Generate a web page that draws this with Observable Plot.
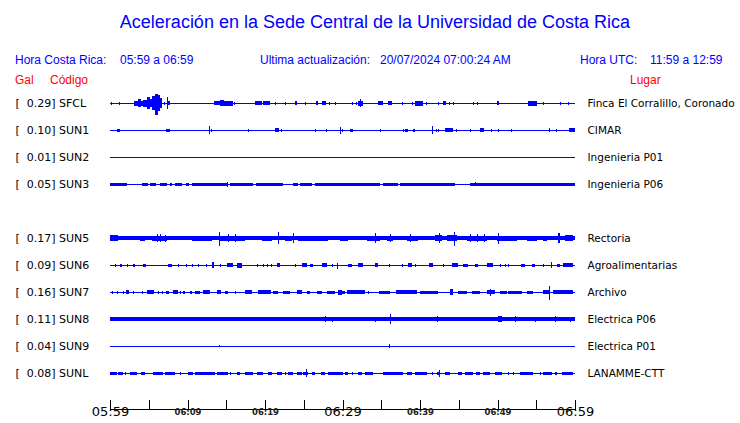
<!DOCTYPE html>
<html><head><meta charset="utf-8">
<script src="https://cdn.jsdelivr.net/npm/d3@7"></script>
<script src="https://cdn.jsdelivr.net/npm/@observablehq/plot@0.6"></script>
<style>
body{margin:0;background:#fff;}
#wrap{position:relative;width:740px;height:423px;overflow:hidden;font-family:"Liberation Sans",Arial,sans-serif;}
#wrap svg{position:absolute;left:0;top:0;}
.h{position:absolute;white-space:pre;font-size:12px;line-height:12px;color:#0000ff;}
.r{color:#ff0000;}
#title{position:absolute;left:0;width:750px;text-align:center;top:13px;font-size:18px;line-height:18px;color:#0000ff;white-space:pre;}
</style></head><body>
<div id="wrap">
<div id="title"></div>
<div class="h" id="h1" style="left:15px;top:54px"></div>
<div class="h" id="h2" style="left:120px;top:54px"></div>
<div class="h" id="h3" style="left:260px;top:54px"></div>
<div class="h" id="h4" style="left:380px;top:54px"></div>
<div class="h" id="h5" style="left:580px;top:54px"></div>
<div class="h" id="h6" style="left:650px;top:54px"></div>
<div class="h r" id="c1" style="left:15px;top:74px"></div>
<div class="h r" id="c2" style="left:50px;top:74px"></div>
<div class="h r" id="c3" style="left:630px;top:74px"></div>
</div>
<script>
const titleText = "Aceleración en la Sede Central de la Universidad de Costa Rica";
const headerTexts = ["Hora Costa Rica:", "05:59 a 06:59", "Ultima actualización:", "20/07/2024 07:00:24 AM", "Hora UTC:", "11:59 a 12:59"];
const columnTexts = ["Gal", "Código", "Lugar"];

const codes  = ["SFCL","SUN1","SUN2","SUN3","SUN4","SUN5","SUN6","SUN7","SUN8","SUN9","SUNL"];
const peakGal = [0.29, 0.10, 0.01, 0.05, null, 0.17, 0.09, 0.16, 0.11, 0.04, 0.08];
const places = ["Finca El Corralillo, Coronado","CIMAR","Ingenieria P01","Ingenieria P06",null,
                "Rectoria","Agroalimentarias","Archivo","Electrica P06","Electrica P01","LANAMME-CTT"];
const noiseAmp = [0, 0, 0, 0, null, 1.6, 0, 0, 1.8, 0, 0];

// bursts: [start minute, end minute, amplitude up, (amplitude down)]
const burstsSFCL = [[0.1,0.1,1.5],[1.2,1.2,1.5],[3.1,3.6,2.5],[3.6,4.0,4],[4.0,4.3,2.5],[4.3,4.8,3.5],[4.8,5.2,6],[5.2,5.4,4],[5.4,5.8,7],[5.8,6.2,9,12],[6.2,6.5,8],[6.5,6.7,5],[7.0,7.0,1.5],[7.4,7.5,6],[7.5,7.7,2],[13.4,14.2,2],[14.2,14.7,3],[14.7,15.9,2.5],[16.0,16.0,1.5],[18.7,19.6,2],[19.7,20.6,2],[21.3,21.3,1.5],[22.6,22.6,1.5],[23.9,24.1,2],[25.2,25.2,1.5],[26.6,26.8,2],[27.4,27.9,2],[28.3,28.3,1.5],[29.0,29.0,1.5],[31.2,31.2,1.5],[31.7,31.7,1.5],[32.0,32.6,2.5],[32.2,32.2,4],[34.6,35.2,2],[35.9,36.4,2],[37.7,37.7,1.5],[39.0,39.0,1.5],[39.4,40.4,2.5],[40.8,40.8,1.5],[42.3,42.3,1.5],[43.0,43.4,2],[43.7,43.7,1.5],[44.3,44.3,1.5],[46.8,46.8,1.5],[47.4,47.4,1.5],[49.9,50.2,2],[53.9,55.1,2.5],[55.9,55.9,1.5],[58.1,58.1,1.5],[59.1,59.1,1.5]];
const burstsSUN1 = [[0.9,1.3,1.5],[7.2,7.7,1.5],[12.8,12.8,4],[13.0,13.2,1.5],[17.8,17.8,1.5],[21.3,21.8,2],[22.0,22.0,1.5],[26.4,26.4,1.5],[27.9,27.9,1.5],[29.7,29.7,3.5],[29.9,29.9,1.5],[31.0,31.4,1.5],[34.8,34.8,1.5],[37.8,37.8,1.5],[38.1,38.5,1.5],[39.1,39.4,1.5],[41.6,41.6,4],[42.1,42.1,1.5],[42.3,42.3,1.5],[43.2,44.3,2],[44.7,44.7,1.5],[46.4,46.4,1.5],[47.7,48.3,2],[49.1,49.1,1.5],[50.0,50.0,1.5],[51.7,51.7,1.5],[56.7,56.7,2],[57.6,57.6,1.5],[59.2,60,2]];
const burstsSUN2 = [];
const burstsSUN3 = [[0,2.2,1.5],[4.1,4.9,1.5],[5.2,5.9,1.5],[6.5,7.4,1.5],[7.7,8.0,1.5],[8.4,9.3,1.5],[9.8,10.2,1.5],[10.6,15.1,1.5],[15.1,15.1,2.5],[15.5,18.5,1.5],[18.8,22.3,1.5],[23.6,24.3,1.5],[24.5,26.1,1.5],[26.5,34.8,1.5],[35.2,37.2,1.5],[37.4,44.5,1.5],[46.5,60,1.5],[47.1,47.1,2]];
const burstsSUN5 = [[0,1.0,3],[3.9,4.5,2.5],[5.4,7.4,2.5],[6.1,6.1,4],[6.5,6.5,4],[7.1,7.1,3.5],[10.6,13.2,2.5],[14.0,14.0,6,8],[14.2,17.4,2.5],[15.2,15.2,4],[16.1,16.1,4],[19.6,20.9,2.5],[21.7,21.7,6],[22.6,23.5,2.5],[23.6,23.6,5],[24.3,28.1,2.5],[29.7,30.7,2.5],[33.2,34.8,2.5],[34.2,34.2,5],[35.7,36.5,2.5],[36.1,36.1,4],[38.3,39.7,2.5],[38.7,38.7,4],[41.9,42.8,3],[42.5,42.5,5],[43.5,44.8,3],[44.4,44.4,6,8],[46.1,48.6,2.5],[46.5,46.5,4],[47.4,47.4,4],[48.2,48.2,4],[49.9,52.5,2.5],[50.1,50.1,5.5],[53.8,55.1,2.5],[55.9,56.4,2.5],[57.8,58.1,5],[58.7,59.7,3]];
const burstsSUN6 = [[0.6,0.6,1.5],[1.3,1.5,1.5],[2.2,2.2,1.5],[3.0,3.2,1.5],[4.3,4.6,1.5],[7.5,8.0,1.5],[8.8,8.8,1.5],[9.8,9.8,1.5],[10.6,10.6,1.5],[11.4,11.4,1.5],[12.4,12.4,1.5],[13.2,13.4,3],[14.2,14.2,1.5],[15.1,15.9,2],[16.4,17.0,2.5],[19.0,19.0,1.5],[19.7,19.7,1.5],[20.3,20.3,1.5],[20.8,20.8,1.5],[21.5,21.9,2],[23.9,23.9,1.5],[24.8,25.4,2],[25.8,26.2,1.5],[27.4,28.0,2],[28.6,28.6,1.5],[29.3,29.3,2,4],[30.7,31.2,1.5],[32.0,32.6,2],[34.2,34.6,2],[36.0,36.0,1.5],[37.7,37.7,1.5],[38.5,39.0,2],[39.4,39.4,1.5],[41.2,41.7,2],[43.0,43.0,1.5],[44.1,44.9,2],[45.5,46.2,1.5],[47.1,47.5,1.5],[48.6,49.4,2],[50.3,50.3,1.5],[51.0,51.0,1.5],[51.4,51.4,1.5],[53.0,53.6,1.5],[54.5,54.8,1.5],[55.9,55.9,1.5],[56.9,56.9,3],[57.7,58.1,1.5],[58.5,59.7,2]];
const burstsSUN7 = [[0.3,0.4,1.5],[0.9,0.9,1.5],[1.7,1.7,1.5],[2.1,2.5,2],[3.0,3.0,1.5],[4.1,4.1,1.5],[4.8,5.7,2],[6.2,6.2,1.5],[6.7,6.8,1.5],[7.2,7.6,1.5],[8.1,8.8,2],[9.0,9.0,1.5],[9.4,9.7,1.5],[10.3,10.6,1.5],[11.0,11.6,1.5],[12.0,12.9,2],[13.8,14.3,2],[14.8,15.2,1.5],[16.1,16.1,1.5],[17.4,18.3,2],[19.1,20.8,2],[21.0,21.7,1.5],[22.3,23.2,1.5],[24.1,24.8,2],[25.4,25.8,1.5],[26.7,27.4,1.5],[28.0,29.0,1.5],[29.4,29.9,2.5],[29.7,30.3,1.5],[30.6,32.9,2],[33.3,33.3,1.5],[34.7,36.1,1.5],[36.9,39.6,2],[40.0,42.3,1.5],[43.9,44.3,3],[44.9,46.1,1.5],[46.7,47.7,1.5],[48.6,49.7,2],[49.0,49.0,3.5],[50.3,51.2,1.5],[51.4,53.2,1.5],[53.8,54.6,1.5],[55.9,56.8,2],[56.6,56.6,6,8],[57.2,59.7,2]];
const burstsSUN8 = [[27.7,27.7,3],[28.6,28.6,2.5],[34.2,34.2,2.5],[36.1,36.1,5],[42.2,42.2,3],[50.1,50.6,3],[52.3,52.3,3],[54.8,54.8,2.5],[57.4,57.4,3],[59.4,59.4,2.5]];
const burstsSUN9 = [[14.0,14.0,1.5,0],[36.0,36.0,2]];
const burstsSUNL = [[0,0.9,1.5],[1.0,1.7,1.5],[1.9,1.9,1.5],[2.6,3.5,1.5],[4.0,4.5,1.5],[5.5,6.8,1.5],[7.1,8.4,1.5],[9.0,9.0,1.5],[10.1,10.7,1.5],[11.0,13.5,1.5],[13.8,15.2,1.5],[15.5,15.5,1.5],[16.4,16.8,1.5],[17.4,18.5,1.5],[19.0,19.7,1.5],[20.4,20.9,1.5],[21.5,22.2,1.5],[22.6,22.6,1.5],[23.0,23.6,1.5],[24.1,24.8,1.5],[24.9,25.5,1.5],[25.3,25.3,4],[26.1,26.5,1.5],[27.2,27.7,1.5],[28.1,30.1,1.5],[30.3,30.7,1.5],[31.2,31.2,1.5],[32.0,32.5,1.5],[32.9,33.9,1.5],[35.2,37.8,1.5],[38.3,39.0,1.5],[39.4,40.9,1.5],[41.5,41.5,1.5],[42.2,42.6,1.5],[42.5,42.5,3.5],[43.2,43.9,1.5],[44.9,45.4,1.5],[45.8,46.8,1.5],[47.2,47.7,1.5],[48.1,49.0,1.5],[49.7,50.6,1.5],[51.4,51.4,1.5],[52.0,52.0,1.5],[52.9,54.6,1.5],[55.5,55.5,1.5],[55.9,57.0,1.5],[57.4,57.7,1.5],[58.3,59.7,1.5]];

const tickMinutes = [0,5,10,15,20,25,30,35,40,45,50,55,60];
const majorTickMinutes = [0,30,60];
const majorTickLabels = ["05:59","06:29","06:59"];
const minorTickMinutes = [10,20,40,50];
const minorTickLabels = ["06:09","06:19","06:39","06:49"];

// ---- build ----
document.getElementById("title").textContent = titleText;
["h1","h2","h3","h4","h5","h6"].forEach((id,i)=>document.getElementById(id).textContent = headerTexts[i]);
["c1","c2","c3"].forEach((id,i)=>document.getElementById(id).textContent = columnTexts[i]);

const burstsByCode = {SFCL:burstsSFCL, SUN1:burstsSUN1, SUN2:burstsSUN2, SUN3:burstsSUN3, SUN5:burstsSUN5,
  SUN6:burstsSUN6, SUN7:burstsSUN7, SUN8:burstsSUN8, SUN9:burstsSUN9, SUNL:burstsSUNL};
const ROW = 27; // amplitude units between traces
const rows = codes.map((c,i)=>({code:c, i, gal:peakGal[i], place:places[i], noise:noiseAmp[i]})).filter(d=>d.place);
const segs = [];
for (const r of rows) {
  const c = r.i*ROW;
  if (r.noise) segs.push({x1:0, x2:60, y1:c-r.noise, y2:c+r.noise});
  for (const b of burstsByCode[r.code]) {
    const [s,e,up,down=up] = b;
    segs.push({x1:s, x2:Math.max(e, s+0.13), y1:c-up, y2:c+down});
  }
}
const BLUE = "#0000ff";
const FONT = "DejaVu Sans";
const chart = Plot.plot({
  width: 740, height: 423,
  marginLeft: 110, marginRight: 165, marginTop: 89, marginBottom: 14,
  x: {domain: [0, 60], axis: null},
  y: {domain: [306, -14], axis: null},
  marks: [
    Plot.ruleY(rows, {y: d=>d.i*ROW, stroke: BLUE, strokeWidth: 1, shapeRendering: "crispEdges"}),
    Plot.rect(segs, {x1:"x1", x2:"x2", y1:"y1", y2:"y2", fill: BLUE, shapeRendering: "crispEdges"}),
    Plot.text(rows, {y: d=>d.i*ROW, text: ()=>"[", frameAnchor:"left", dx:-95, textAnchor:"start", fontSize:11, fontFamily:FONT, fill:"black"}),
    Plot.text(rows, {y: d=>d.i*ROW, text: d=>d.gal.toFixed(2)+"]", frameAnchor:"left", dx:-55, textAnchor:"end", fontSize:11, fontFamily:FONT, fill:"black"}),
    Plot.text(rows, {y: d=>d.i*ROW, text: "code", frameAnchor:"left", dx:-51.5, textAnchor:"start", fontSize:11, fontFamily:FONT, fill:"black"}),
    Plot.text(rows, {y: d=>d.i*ROW, text: "place", frameAnchor:"right", dx:12, textAnchor:"start", fontSize:10.5, fontFamily:FONT, fill:"black"}),
    Plot.frame({anchor: "bottom", stroke: "black", shapeRendering: "crispEdges"}),
    Plot.ruleX(tickMinutes, {x: d=>d, insetTop: 311, stroke: "black", shapeRendering: "crispEdges"}),
    Plot.text(majorTickMinutes, {x: d=>d, text: (d,i)=>majorTickLabels[i], frameAnchor:"bottom", dy: 6, fontSize: 13, fontFamily: FONT, fill:"black"}),
    Plot.text(minorTickMinutes, {x: d=>d, text: (d,i)=>minorTickLabels[i], frameAnchor:"bottom", dy: 5, fontSize: 8.5, fontWeight: "bold", fontFamily: FONT, fill:"#222"})
  ]
});
document.getElementById("wrap").appendChild(chart);
</script>
</body></html>
